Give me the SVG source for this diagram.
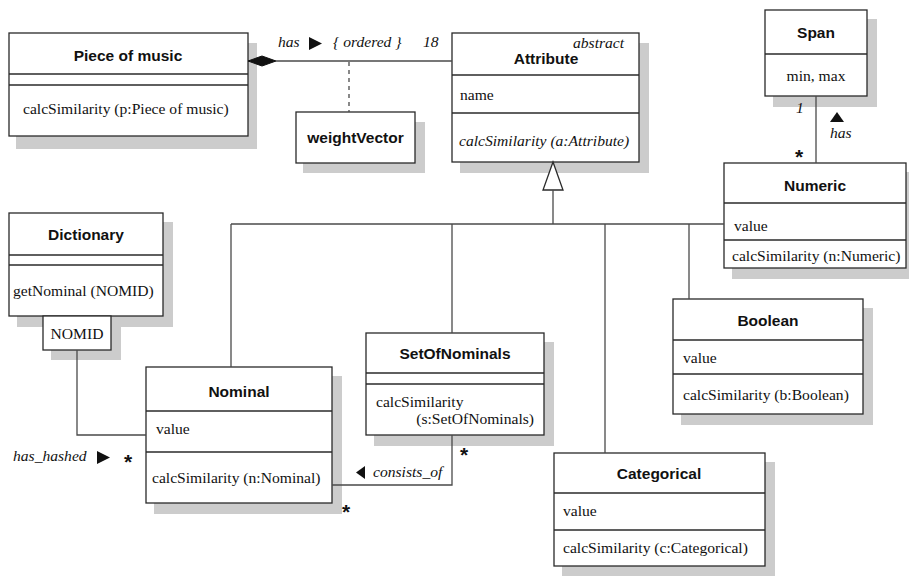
<svg xmlns="http://www.w3.org/2000/svg" width="909" height="576" viewBox="0 0 909 576">
  <style>
    .shadow { fill: #cccccc; }
    .box { fill: #ffffff; stroke: #2a2a2a; stroke-width: 1.3; }
    .sep { stroke: #2a2a2a; stroke-width: 1.3; }
    .name { font-family: "Liberation Sans", Arial, sans-serif; font-weight: bold; font-size: 15.5px; fill: #111111; text-anchor: middle; }
    .member { font-family: "Liberation Serif", "Times New Roman", serif; font-size: 15.6px; fill: #111111; }
    .ital { font-family: "Liberation Serif", "Times New Roman", serif; font-style: italic; font-size: 15.6px; fill: #111111; }
    .mult { font-family: "Liberation Sans", Arial, sans-serif; font-weight: bold; font-size: 21px; fill: #111111; }
    .line { fill: none; stroke: #4a4a4a; stroke-width: 1.3; }
    .dash { fill: none; stroke: #4a4a4a; stroke-width: 1.3; stroke-dasharray: 4 4; }
    .arrowfill { fill: #111111; stroke: none; }
  </style>

  <!-- Piece of music -->
  <g id="piece-of-music">
    <rect class="shadow" x="16" y="43" width="241" height="106"/>
    <rect class="box" x="9" y="33" width="239" height="103"/>
    <line class="sep" x1="9" y1="74" x2="248" y2="74"/>
    <line class="sep" x1="9" y1="85" x2="248" y2="85"/>
    <text class="name" x="128" y="61">Piece of music</text>
    <text class="member" x="23" y="114">calcSimilarity (p:Piece of music)</text>
  </g>

  <!-- weightVector (association class) -->
  <g id="weight-vector">
    <rect class="shadow" x="303" y="122" width="122" height="51"/>
    <rect class="box" x="296" y="112" width="119" height="51"/>
    <text class="name" x="355.5" y="143">weightVector</text>
  </g>

  <!-- Attribute (abstract) -->
  <g id="attribute">
    <rect class="shadow" x="460" y="43" width="189" height="130"/>
    <rect class="box" x="452" y="33" width="187" height="129"/>
    <line class="sep" x1="452" y1="75" x2="639" y2="75"/>
    <line class="sep" x1="452" y1="113" x2="639" y2="113"/>
    <text class="ital" x="573" y="48">abstract</text>
    <text class="name" x="546" y="64">Attribute</text>
    <text class="member" x="460" y="100">name</text>
    <text class="ital" x="459" y="146">calcSimilarity (a:Attribute)</text>
  </g>

  <!-- Span -->
  <g id="span">
    <rect class="shadow" x="773" y="19" width="104" height="88"/>
    <rect class="box" x="765" y="10" width="102" height="86"/>
    <line class="sep" x1="765" y1="54" x2="867" y2="54"/>
    <text class="name" x="816" y="38">Span</text>
    <text class="member" x="816" y="81" text-anchor="middle">min, max</text>
  </g>

  <!-- Numeric -->
  <g id="numeric">
    <rect class="shadow" x="732" y="172" width="184" height="107"/>
    <rect class="box" x="724" y="163" width="182" height="105"/>
    <line class="sep" x1="724" y1="203" x2="906" y2="203"/>
    <line class="sep" x1="724" y1="240" x2="906" y2="240"/>
    <text class="name" x="815" y="191">Numeric</text>
    <text class="member" x="734" y="231">value</text>
    <text class="member" x="732" y="261">calcSimilarity (n:Numeric)</text>
  </g>

  <!-- Dictionary with NOMID qualifier -->
  <g id="dictionary">
    <rect class="shadow" x="17" y="222" width="156" height="105"/>
    <rect class="box" x="9" y="213" width="154" height="103"/>
    <line class="sep" x1="9" y1="255" x2="163" y2="255"/>
    <line class="sep" x1="9" y1="265" x2="163" y2="265"/>
    <text class="name" x="86" y="240">Dictionary</text>
    <text class="member" x="13" y="296">getNominal (NOMID)</text>
    <rect class="shadow" x="51" y="325" width="70" height="35"/>
    <rect class="box" x="43" y="316" width="68" height="34"/>
    <text class="member" x="77" y="339" text-anchor="middle">NOMID</text>
  </g>

  <!-- Nominal -->
  <g id="nominal">
    <rect class="shadow" x="154" y="376" width="188" height="138"/>
    <rect class="box" x="146" y="367" width="186" height="136"/>
    <line class="sep" x1="146" y1="411" x2="332" y2="411"/>
    <line class="sep" x1="146" y1="452" x2="332" y2="452"/>
    <text class="name" x="239" y="397">Nominal</text>
    <text class="member" x="156" y="434">value</text>
    <text class="member" x="152" y="483">calcSimilarity (n:Nominal)</text>
  </g>

  <!-- SetOfNominals -->
  <g id="set-of-nominals">
    <rect class="shadow" x="374" y="342" width="180" height="104"/>
    <rect class="box" x="366" y="333" width="178" height="102"/>
    <line class="sep" x1="366" y1="373" x2="544" y2="373"/>
    <line class="sep" x1="366" y1="384" x2="544" y2="384"/>
    <text class="name" x="455" y="359">SetOfNominals</text>
    <text class="member" x="376" y="407">calcSimilarity</text>
    <text class="member" x="534" y="424" text-anchor="end">(s:SetOfNominals)</text>
  </g>

  <!-- Boolean -->
  <g id="boolean">
    <rect class="shadow" x="681" y="308" width="192" height="117"/>
    <rect class="box" x="673" y="299" width="190" height="115"/>
    <line class="sep" x1="673" y1="340" x2="863" y2="340"/>
    <line class="sep" x1="673" y1="374" x2="863" y2="374"/>
    <text class="name" x="768" y="326">Boolean</text>
    <text class="member" x="683" y="363">value</text>
    <text class="member" x="683" y="400">calcSimilarity (b:Boolean)</text>
  </g>

  <!-- Categorical -->
  <g id="categorical">
    <rect class="shadow" x="562" y="462" width="213" height="115"/>
    <rect class="box" x="554" y="453" width="211" height="113"/>
    <line class="sep" x1="554" y1="493" x2="765" y2="493"/>
    <line class="sep" x1="554" y1="530" x2="765" y2="530"/>
    <text class="name" x="659" y="479">Categorical</text>
    <text class="member" x="563" y="516">value</text>
    <text class="member" x="563" y="553">calcSimilarity (c:Categorical)</text>
  </g>

  <!-- Connectors -->
  <g id="connectors">
    <!-- composition: Piece of music to Attribute -->
    <line class="line" x1="276" y1="61" x2="452" y2="61"/>
    <polygon points="248,61 262,56 276,61 262,66" fill="#111111" stroke="#111111" stroke-width="1"/>
    <line class="dash" x1="349" y1="62" x2="349" y2="112"/>
    <text class="ital" x="278" y="47">has</text>
    <polygon class="arrowfill" points="309,37 322,43.5 309,50"/>
    <text class="ital" x="333" y="47">{ ordered }</text>
    <text class="ital" x="423" y="47">18</text>

    <!-- generalization tree to Attribute -->
    <polygon points="553,162 543,190 563,190" fill="#ffffff" stroke="#2a2a2a" stroke-width="1.3"/>
    <line class="line" x1="553" y1="190" x2="553" y2="224"/>
    <line class="line" x1="231" y1="224" x2="724" y2="224"/>
    <line class="line" x1="231" y1="224" x2="231" y2="367"/>
    <line class="line" x1="452" y1="224" x2="452" y2="333"/>
    <line class="line" x1="605" y1="224" x2="605" y2="453"/>
    <line class="line" x1="689" y1="224" x2="689" y2="299"/>

    <!-- Span has Numeric -->
    <line class="line" x1="816" y1="96" x2="816" y2="163"/>
    <text class="ital" x="796" y="113">1</text>
    <polygon class="arrowfill" points="837,112 844,122 830,122"/>
    <text class="ital" x="830" y="138">has</text>
    <text class="mult" x="795" y="164">*</text>

    <!-- Dictionary has_hashed Nominal -->
    <polyline class="line" points="77,350 77,435 146,435"/>
    <text class="ital" x="13" y="461">has_hashed</text>
    <polygon class="arrowfill" points="97,451 110,457.5 97,464"/>
    <text class="mult" x="124" y="469">*</text>

    <!-- SetOfNominals consists_of Nominal -->
    <polyline class="line" points="332,485 452,485 452,435"/>
    <polygon class="arrowfill" points="365,466 365,479 356,472.5"/>
    <text class="ital" x="373" y="477">consists_of</text>
    <text class="mult" x="460" y="462">*</text>
    <text class="mult" x="342" y="519">*</text>
  </g>
</svg>
